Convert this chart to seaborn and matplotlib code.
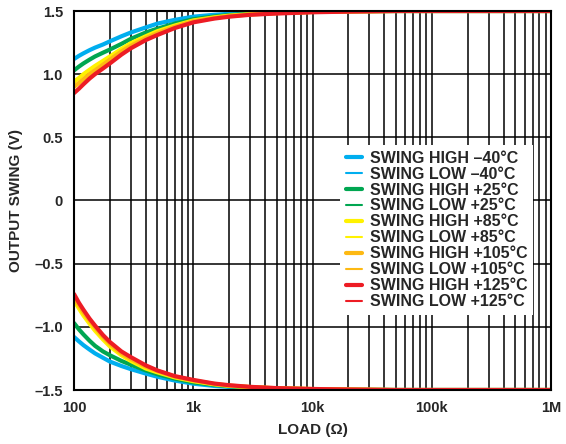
import numpy as np
import pandas as pd
import matplotlib
matplotlib.use('Agg')
import matplotlib.pyplot as plt
import seaborn as sns
from matplotlib.lines import Line2D
from matplotlib.ticker import FixedLocator, LogLocator, NullFormatter

# load resistance (ohms)
load = [100, 110, 120, 135, 150, 175, 200, 250, 300, 400, 500, 700, 1000, 1500,
        2000, 3000, 5000, 10000, 20000, 50000, 100000, 1000000]

temps = ['–40°C', '+25°C', '+85°C', '+105°C', '+125°C']
colors = ['#00AEEF', '#00A651', '#FFF200', '#FDB913', '#ED1C24']

# swing high (V)
high_m40 = [1.12, 1.145, 1.165, 1.19, 1.21, 1.235, 1.26, 1.30, 1.33, 1.37, 1.40, 1.43,
            1.455, 1.47, 1.478, 1.485, 1.49, 1.496, 1.499, 1.50, 1.50, 1.50]
high_25 = [1.03, 1.06, 1.085, 1.115, 1.14, 1.17, 1.195, 1.24, 1.28, 1.33, 1.36, 1.40,
           1.435, 1.457, 1.468, 1.478, 1.487, 1.494, 1.498, 1.50, 1.50, 1.50]
high_85 = [0.94, 0.97, 1.00, 1.035, 1.065, 1.105, 1.14, 1.20, 1.245, 1.30, 1.34, 1.385,
           1.425, 1.45, 1.463, 1.475, 1.485, 1.493, 1.497, 1.50, 1.50, 1.50]
high_105 = [0.90, 0.93, 0.96, 1.00, 1.03, 1.075, 1.115, 1.18, 1.225, 1.285, 1.325, 1.375,
            1.42, 1.445, 1.46, 1.472, 1.483, 1.492, 1.497, 1.50, 1.50, 1.50]
high_125 = [0.85, 0.885, 0.92, 0.965, 1.00, 1.045, 1.085, 1.155, 1.205, 1.27, 1.31, 1.365,
            1.41, 1.44, 1.455, 1.47, 1.48, 1.49, 1.495, 1.50, 1.50, 1.50]

# swing low (V)
low_m40 = [-1.08, -1.115, -1.145, -1.18, -1.21, -1.245, -1.275, -1.31, -1.335, -1.37, -1.395,
           -1.425, -1.45, -1.468, -1.476, -1.484, -1.49, -1.495, -1.498, -1.50, -1.50, -1.50]
low_25 = [-0.97, -1.02, -1.06, -1.11, -1.15, -1.195, -1.225, -1.27, -1.30, -1.345, -1.375,
          -1.41, -1.44, -1.46, -1.47, -1.48, -1.488, -1.494, -1.497, -1.50, -1.50, -1.50]
low_85 = [-0.79, -0.855, -0.91, -0.975, -1.03, -1.10, -1.155, -1.225, -1.27, -1.33, -1.36,
          -1.40, -1.43, -1.455, -1.467, -1.478, -1.487, -1.493, -1.497, -1.50, -1.50, -1.50]
low_105 = [-0.77, -0.83, -0.885, -0.95, -1.005, -1.08, -1.135, -1.21, -1.255, -1.315, -1.35,
           -1.395, -1.425, -1.452, -1.465, -1.476, -1.486, -1.492, -1.496, -1.50, -1.50, -1.50]
low_125 = [-0.74, -0.81, -0.865, -0.935, -0.99, -1.065, -1.12, -1.195, -1.24, -1.305, -1.345,
           -1.39, -1.42, -1.449, -1.462, -1.475, -1.485, -1.492, -1.496, -1.50, -1.50, -1.50]

highs = [high_m40, high_25, high_85, high_105, high_125]
lows = [low_m40, low_25, low_85, low_105, low_125]

x_ticks = [100, 1000, 10000, 100000, 1000000]
x_labels = ['100', '1k', '10k', '100k', '1M']
y_ticks = [-1.5, -1.0, -0.5, 0, 0.5, 1.0, 1.5]
y_labels = ['–1.5', '–1.0', '–0.5', '0', '0.5', '1.0', '1.5']

sns.set_style('white')
plt.rcParams['font.family'] = ['Liberation Sans', 'DejaVu Sans']

fig = plt.figure(figsize=(5.66, 4.44), dpi=100)
ax = fig.add_axes([74 / 566, 1 - 390 / 444, 477 / 566, 379 / 444])

for c, hi, lo in zip(colors, highs, lows):
    sns.lineplot(x=load, y=hi, color=c, lw=3, ax=ax)
    sns.lineplot(x=load, y=lo, color=c, lw=3, ax=ax)

ax.set_xscale('log')
ax.set_xlim(100, 1e6)
ax.set_ylim(-1.5, 1.5)

ax.xaxis.set_major_locator(FixedLocator(x_ticks))
ax.xaxis.set_minor_locator(LogLocator(base=10, subs=np.arange(2, 10)))
ax.xaxis.set_minor_formatter(NullFormatter())
ax.set_xticks(x_ticks, x_labels)
ax.set_yticks(y_ticks, y_labels)

ax.grid(True, which='major', axis='both', color='black', lw=1.1)
ax.grid(True, which='minor', axis='x', color='black', lw=1.1)
ax.set_axisbelow(True)
ax.tick_params(which='both', length=0)
ax.tick_params(axis='x', pad=8, labelsize=10.5)
ax.tick_params(axis='y', pad=8, labelsize=10.5)
for lbl in ax.get_xticklabels() + ax.get_yticklabels():
    lbl.set_fontweight('bold')

for s in ax.spines.values():
    s.set_color('black')
    s.set_linewidth(1.5)

ax.set_xlabel('LOAD (Ω)', fontsize=11, fontweight='bold', labelpad=6)
ax.set_ylabel('OUTPUT SWING (V)', fontsize=11, fontweight='bold', labelpad=8)

handles = []
labels = []
for c, t in zip(colors, temps):
    handles.append(Line2D([], [], color=c, lw=3))
    labels.append('SWING HIGH ' + t)
    handles.append(Line2D([], [], color=c, lw=1.5))
    labels.append('SWING LOW ' + t)

leg = ax.legend(handles, labels, loc='upper left',
                bbox_to_anchor=(340 / 566, 1 - 145 / 444), bbox_transform=fig.transFigure,
                frameon=True, fancybox=False, framealpha=1, edgecolor='none',
                facecolor='white', borderpad=0.35, handlelength=1.0,
                handletextpad=0.5, labelspacing=0.06, borderaxespad=0,
                prop={'weight': 'bold', 'size': 11.5})

fig.savefig('out.png', dpi=100)
